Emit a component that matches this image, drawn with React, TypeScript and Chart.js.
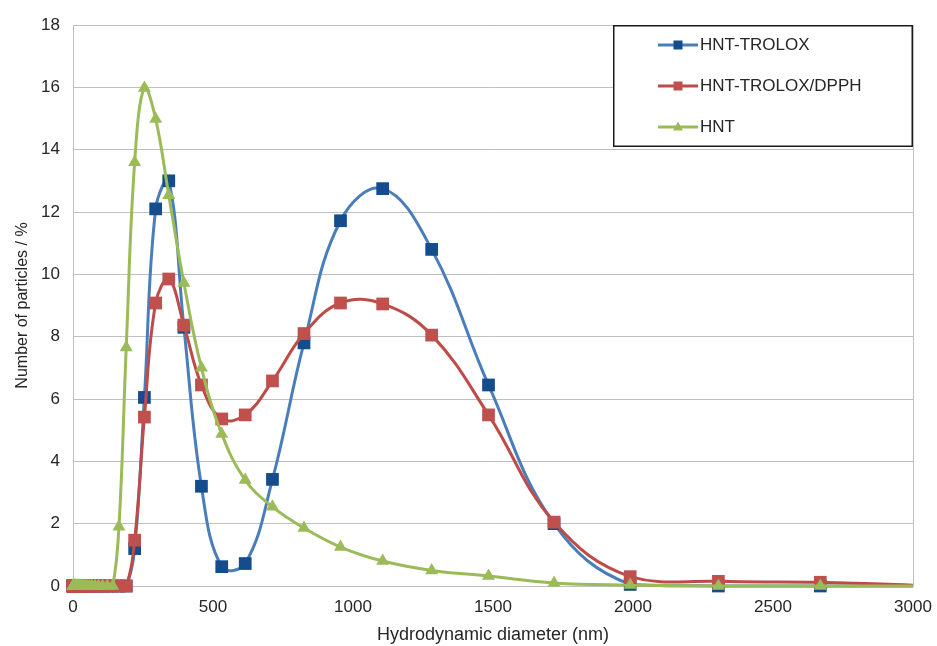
import React, { useEffect, useRef } from 'react';
import { Chart, registerables } from 'chart.js';

Chart.register(...registerables);

// Hydrodynamic diameter bins (nm)
const sizes = [
  0.4, 0.4632, 0.5365, 0.6213, 0.7195, 0.8332, 0.9649, 1.117, 1.294, 1.499,
  1.736, 2.01, 2.328, 2.696, 3.122, 3.615, 4.187, 4.849, 5.615, 6.503,
  7.531, 8.721, 10.1, 11.7, 13.54, 15.69, 18.17, 21.04, 24.36, 28.21,
  32.67, 37.84, 43.82, 50.75, 58.77, 68.06, 78.82, 91.28, 105.7, 122.4,
  141.8, 164.2, 190.1, 220.2, 255.0, 295.3, 342.0, 396.1, 458.7, 531.2,
  615.1, 712.4, 825.0, 955.4, 1106, 1281, 1484, 1718, 1990, 2305,
  2669, 3091,
];

const hntTrolox = [
  0, 0, 0, 0, 0, 0, 0, 0, 0, 0,
  0, 0, 0, 0, 0, 0, 0, 0, 0, 0,
  0, 0, 0, 0, 0, 0, 0, 0, 0, 0,
  0, 0, 0, 0, 0, 0, 0, 0, 0, 0,
  0, 0, 0, 1.2, 6.05, 12.1, 13.0, 8.3, 3.2, 0.62,
  0.72, 3.42, 7.8, 11.72, 12.75, 10.8, 6.45, 2.0, 0.05, 0,
  0, 0,
];

const hntTroloxDpph = [
  0, 0, 0, 0, 0, 0, 0, 0, 0, 0,
  0, 0, 0, 0, 0, 0, 0, 0, 0, 0,
  0, 0, 0, 0, 0, 0, 0, 0, 0, 0,
  0, 0, 0, 0, 0, 0, 0, 0, 0, 0,
  0, 0, 0, 1.47, 5.42, 9.08, 9.85, 8.37, 6.45, 5.36,
  5.49, 6.58, 8.1, 9.08, 9.05, 8.05, 5.49, 2.05, 0.3, 0.15,
  0.12, 0,
];

const hnt = [
  0, 0, 0, 0, 0, 0, 0, 0, 0, 0,
  0, 0, 0, 0, 0, 0, 0, 0, 0, 0,
  0, 0, 0, 0, 0, 0, 0, 0, 0, 0,
  0, 0, 0, 0, 0, 0, 0, 0, 0, 0,
  0, 1.9, 7.65, 13.6, 15.98, 14.98, 12.54, 9.72, 7.0, 4.88,
  3.4, 2.54, 1.86, 1.25, 0.8, 0.5, 0.32, 0.1, 0.03, 0,
  0, 0,
];

const seriesNames = ['HNT-TROLOX', 'HNT-TROLOX/DPPH', 'HNT'];
const lineColors = ['#4A7EBB', '#BE4B48', '#9BBB59'];
const markerColors = ['#154C8E', '#C0504D', '#9BBB59'];
const markerStyles = ['rect', 'rect', 'triangle'];
const markerRadii = [9, 9, 7.5];

const xTitle = 'Hydrodynamic diameter (nm)';
const yTitle = 'Number of particles / %';

const FONT = "'Liberation Sans', Arial, sans-serif";
const TEXT = '#262626';
const GRID = '#BFBFBF';

function toPoints(values: number[]) {
  return sizes.map((s, i) => ({ x: s, y: values[i] }));
}

const frameAndLegend = {
  id: 'frameAndLegend',
  beforeDatasetsDraw(chart: any) {
    const { ctx, chartArea } = chart;
    ctx.save();
    ctx.strokeStyle = GRID;
    ctx.lineWidth = 1;
    ctx.beginPath();
    ctx.moveTo(Math.round(chartArea.right) + 0.5, chartArea.top);
    ctx.lineTo(Math.round(chartArea.right) + 0.5, chartArea.bottom);
    ctx.stroke();
    ctx.restore();
  },
  afterDraw(chart: any) {
    const { ctx, chartArea } = chart;
    const w = 300;
    const h = 122;
    const x0 = chartArea.right - w;
    const y0 = chartArea.top;
    ctx.save();
    ctx.fillStyle = '#ffffff';
    ctx.fillRect(x0, y0, w, h);
    ctx.strokeStyle = '#1a1a1a';
    ctx.lineWidth = 1.5;
    ctx.strokeRect(x0 + 0.75, y0 + 0.75, w - 1.5, h - 1.5);
    const rowYs = [20, 61, 102];
    seriesNames.forEach((name, i) => {
      const cy = y0 + rowYs[i];
      ctx.strokeStyle = lineColors[i];
      ctx.lineWidth = 3;
      ctx.beginPath();
      ctx.moveTo(x0 + 45, cy);
      ctx.lineTo(x0 + 85, cy);
      ctx.stroke();
      ctx.fillStyle = markerColors[i];
      const mx = x0 + 65;
      if (markerStyles[i] === 'rect') {
        ctx.fillRect(mx - 4.5, cy - 4.5, 9, 9);
      } else {
        ctx.beginPath();
        ctx.moveTo(mx, cy - 5.5);
        ctx.lineTo(mx + 5, cy + 3.5);
        ctx.lineTo(mx - 5, cy + 3.5);
        ctx.closePath();
        ctx.fill();
      }
      ctx.fillStyle = TEXT;
      ctx.font = `17px ${FONT}`;
      ctx.textBaseline = 'middle';
      ctx.textAlign = 'left';
      ctx.fillText(name, x0 + 87, cy);
    });
    ctx.restore();
  },
};

export default function App() {
  const canvasRef = useRef<HTMLCanvasElement | null>(null);

  useEffect(() => {
    const canvas = canvasRef.current;
    if (!canvas) return;
    const datasets = [hntTrolox, hntTroloxDpph, hnt].map((vals, i) => ({
      label: seriesNames[i],
      data: toPoints(vals),
      borderColor: lineColors[i],
      backgroundColor: markerColors[i],
      borderWidth: 3,
      pointStyle: markerStyles[i],
      pointRadius: markerRadii[i],
      pointBorderWidth: 0,
      pointBackgroundColor: markerColors[i],
      pointBorderColor: markerColors[i],
      tension: 0.4,
      fill: false,
      order: 3 - i,
      clip: { left: 20, top: 20, right: 0, bottom: 20 },
    }));

    const chart = new Chart(canvas, {
      type: 'line',
      data: { datasets },
      plugins: [frameAndLegend],
      options: {
        animation: false,
        responsive: false,
        devicePixelRatio: 1,
        layout: { padding: { top: 25, right: 24, left: 0, bottom: 0 } },
        plugins: {
          legend: { display: false },
          tooltip: { enabled: false },
        },
        scales: {
          x: {
            type: 'linear',
            min: 0,
            max: 3000,
            ticks: {
              stepSize: 500,
              color: TEXT,
              font: { family: FONT, size: 17 },
              padding: 11,
              maxRotation: 0,
              callback: (v: any) => String(v),
            },
            grid: { display: false, drawTicks: false },
            border: { display: true, color: GRID, width: 1 },
            title: {
              display: true,
              text: xTitle,
              color: TEXT,
              font: { family: FONT, size: 18 },
              padding: { top: 0, bottom: 0 },
            },
            afterFit(scale: any) {
              scale.height = 60;
              scale.paddingLeft = 0;
              scale.paddingRight = 0;
            },
          },
          y: {
            min: 0,
            max: 18,
            ticks: {
              stepSize: 2,
              color: TEXT,
              font: { family: FONT, size: 17 },
              padding: 13,
            },
            grid: { color: GRID, lineWidth: 1, drawTicks: false },
            border: { display: true, color: GRID, width: 1 },
            title: {
              display: true,
              text: yTitle,
              color: TEXT,
              font: { family: FONT, size: 16 },
              padding: { top: 13, bottom: 0 },
            },
            afterFit(scale: any) {
              scale.width = 73;
              scale.paddingTop = 0;
              scale.paddingBottom = 0;
            },
          },
        },
      },
    } as any);

    return () => {
      chart.destroy();
    };
  }, []);

  return (
    <div style={{ position: 'fixed', left: 0, top: 0, width: 937, height: 646, background: '#fff' }}>
      <canvas ref={canvasRef} width={937} height={646} style={{ display: 'block', width: 937, height: 646 }} />
    </div>
  );
}
